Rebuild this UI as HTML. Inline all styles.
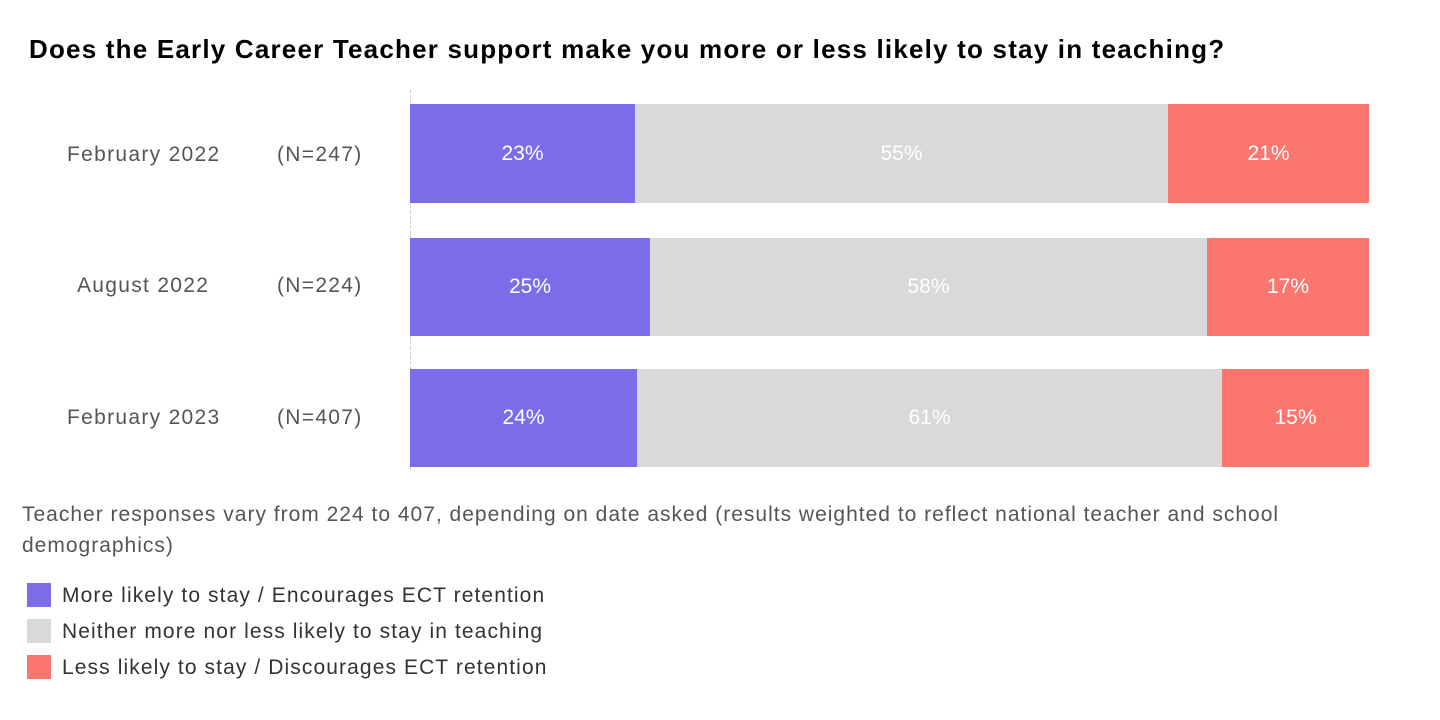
<!DOCTYPE html>
<html><head><meta charset="utf-8"><style>
body{margin:0;width:1440px;height:720px;background:#fff;font-family:"Liberation Sans",sans-serif;position:relative;overflow:hidden}
.a{position:absolute}
.t{left:29px;top:34px;font-size:26px;font-weight:bold;color:#000;letter-spacing:1.2px;white-space:nowrap}
.lab{font-size:21px;color:#555;letter-spacing:1.3px}
.seg{position:absolute;display:flex;align-items:center;justify-content:center;color:#fff;font-size:21px}
.p{background:#7b6dea}.g{background:#d9d9d9}.r{background:#fb766f}
.note{left:22px;top:499px;width:1290px;font-size:21px;color:#555;line-height:31px;letter-spacing:1px}
.lg{left:27px;font-size:21px;color:#333;letter-spacing:1.1px}
.sw{display:inline-block;width:24px;height:24px;vertical-align:-5px;margin-right:11px}
</style></head><body>
<div class="a t">Does the Early Career Teacher support make you more or less likely to stay in teaching?</div>
<div class="a" style="left:410px;top:90px;height:380px;border-left:1px dashed #ccc"></div>

<div class="a lab" style="left:67px;top:143px">February 2022</div><div class="a lab" style="left:277px;top:143px">(N=247)</div>
<div class="a lab" style="left:77px;top:274px">August 2022</div><div class="a lab" style="left:277px;top:274px">(N=224)</div>
<div class="a lab" style="left:67px;top:406px">February 2023</div><div class="a lab" style="left:277px;top:406px">(N=407)</div>

<div class="seg p" style="left:410px;top:104px;width:225px;height:99px">23%</div>
<div class="seg g" style="left:635px;top:104px;width:533px;height:99px">55%</div>
<div class="seg r" style="left:1168px;top:104px;width:201px;height:99px">21%</div>

<div class="seg p" style="left:410px;top:238px;width:240px;height:98px">25%</div>
<div class="seg g" style="left:650px;top:238px;width:557px;height:98px">58%</div>
<div class="seg r" style="left:1207px;top:238px;width:162px;height:98px">17%</div>

<div class="seg p" style="left:410px;top:369px;width:227px;height:98px">24%</div>
<div class="seg g" style="left:637px;top:369px;width:585px;height:98px">61%</div>
<div class="seg r" style="left:1222px;top:369px;width:147px;height:98px">15%</div>

<div class="a note">Teacher responses vary from 224 to 407, depending on date asked (results weighted to reflect national teacher and school demographics)</div>
<div class="a lg" style="top:583px"><span class="sw p"></span>More likely to stay / Encourages ECT retention</div>
<div class="a lg" style="top:619px"><span class="sw g"></span>Neither more nor less likely to stay in teaching</div>
<div class="a lg" style="top:655px"><span class="sw r"></span>Less likely to stay / Discourages ECT retention</div>
</body></html>
